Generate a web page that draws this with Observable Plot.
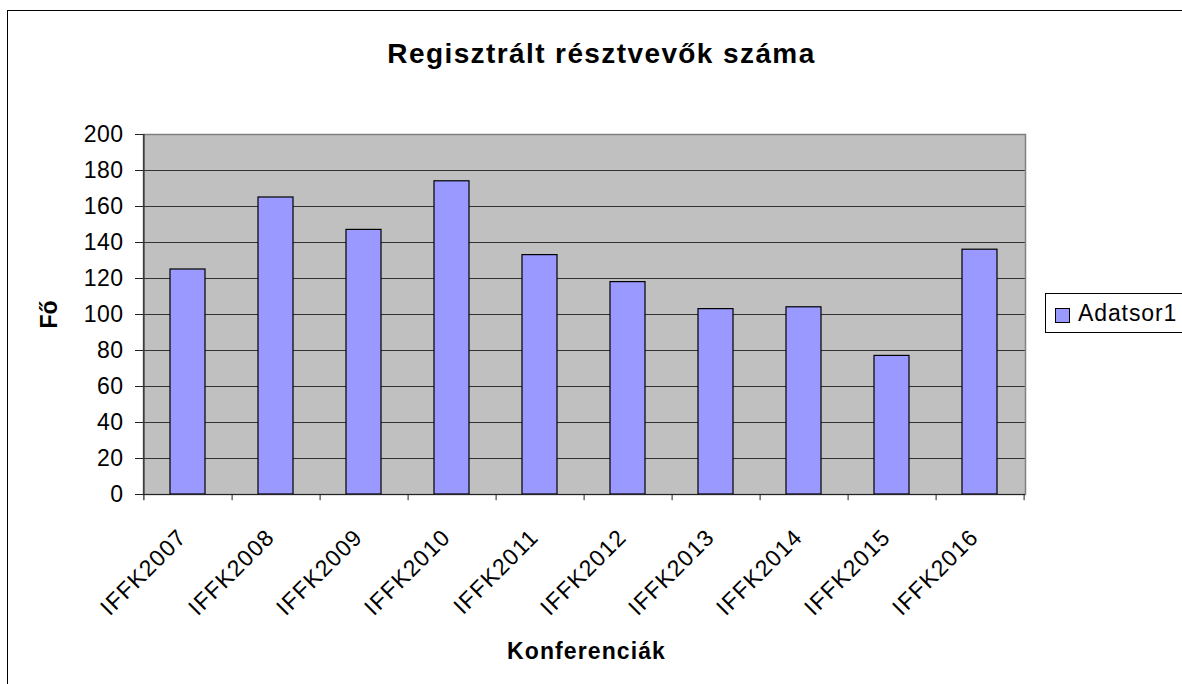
<!DOCTYPE html>
<html>
<head>
<meta charset="utf-8">
<script src="https://cdn.jsdelivr.net/npm/d3@7"></script>
<script src="https://cdn.jsdelivr.net/npm/@observablehq/plot@0.6"></script>
<style>
  body { margin: 0; background: #fff; font-family: "Liberation Sans", Arial, sans-serif; }
  #wrap { position: relative; width: 1182px; height: 684px; overflow: hidden; background: #fff; }
  #frame { position: absolute; left: 7px; top: 10px; width: 1300px; height: 800px; border: 1px solid #000; box-sizing: border-box; }
  #chart { position: absolute; left: 0; top: 0; }
  #legend { position: absolute; left: 1045px; top: 293px; width: 160px; height: 40px; border: 1px solid #000; background: #fff; box-sizing: border-box; }
  #legend .sw { position: absolute; left: 9px; top: 14px; width: 15px; height: 15px; background: #9999ff; border: 1px solid #000; box-sizing: border-box; }
  #legend .lb { position: absolute; left: 32px; top: 5px; font-size: 23px; line-height: 28px; color: #000; letter-spacing: 0.9px; }
</style>
</head>
<body>
<div id="wrap">
  <div id="frame"></div>
  <div id="chart"></div>
  <div id="legend"><div class="sw"></div><div class="lb"></div></div>
</div>
<script>
const title = "Regisztrált résztvevők száma";
const xLabel = "Konferenciák";
const yLabel = "Fő";
const seriesName = "Adatsor1";
const categories = ["IFFK2007","IFFK2008","IFFK2009","IFFK2010","IFFK2011","IFFK2012","IFFK2013","IFFK2014","IFFK2015","IFFK2016"];
const values = [125, 165, 147, 174, 133, 118, 103, 104, 77, 136];
const yTicks = [0, 20, 40, 60, 80, 100, 120, 140, 160, 180, 200];

const data = categories.map((c, i) => ({ cat: c, value: values[i] }));
const half = (1025 - 143) / categories.length / 2;

const chart = Plot.plot({
  width: 1182,
  height: 684,
  marginLeft: 143,
  marginRight: 157,
  marginTop: 134,
  marginBottom: 190,
  style: { fontFamily: "'Liberation Sans', Arial, sans-serif", background: "transparent", overflow: "visible" },
  x: { domain: categories, paddingInner: 0.6, paddingOuter: 0.3, axis: null },
  y: { domain: [0, 200], axis: null },
  marks: [
    Plot.frame({ fill: "#c0c0c0" }),
    Plot.gridY(yTicks.filter(t => t > 0 && t < 200), { stroke: "#333", strokeOpacity: 1, strokeWidth: 1 }),
    Plot.frame({ stroke: "#808080", strokeWidth: 1.5 }),
    Plot.barY(data, { x: "cat", y: "value", fill: "#9999ff", stroke: "#000", strokeWidth: 1.2 }),
    Plot.ruleY([0], { stroke: "#222", strokeWidth: 1.2 }),
    Plot.ruleX([categories[0]], { dx: -half, y1: -3.5, y2: 200, stroke: "#222", strokeWidth: 1.2 }),
    Plot.ruleX(categories, { dx: half, y1: -3.5, y2: 0, stroke: "#222" }),
    Plot.axisY(yTicks, { anchor: "left", tickSize: 8, tickPadding: 12, fontSize: 23, label: null, stroke: "#222" }),
    Plot.text(categories, { x: d => d, y: () => 0, dx: 0, dy: 44, rotate: -45, textAnchor: "end", lineAnchor: "bottom", fontSize: 23, fill: "#000", ariaLabel: () => "xticks" }),
    Plot.text([title], { frameAnchor: "top", dx: 17, dy: -72, lineAnchor: "bottom", fontSize: 28, fontWeight: "bold", fill: "#000", ariaLabel: () => "title" }),
    Plot.text([xLabel], { frameAnchor: "bottom", dx: 2, dy: 164, lineAnchor: "bottom", fontSize: 23, fontWeight: "bold", fill: "#000", ariaLabel: () => "xlabel" }),
    Plot.text([yLabel], { frameAnchor: "left", dx: -87, rotate: -90, lineAnchor: "bottom", textAnchor: "middle", fontSize: 23, fontWeight: "bold", fill: "#000", ariaLabel: () => "ylabel" })
  ]
});
const sel = d3.select(chart);
sel.selectAll('text[aria-label="xticks"]').style("letter-spacing", "1.2px");
sel.selectAll('g[aria-label="y-axis tick label"] text').style("letter-spacing", "0.5px");
sel.selectAll('text[aria-label="title"]').style("letter-spacing", "1.4px");
sel.selectAll('text[aria-label="xlabel"]').style("letter-spacing", "1.1px");
document.getElementById("chart").appendChild(chart);
document.querySelector("#legend .lb").textContent = seriesName;
</script>
</body>
</html>
